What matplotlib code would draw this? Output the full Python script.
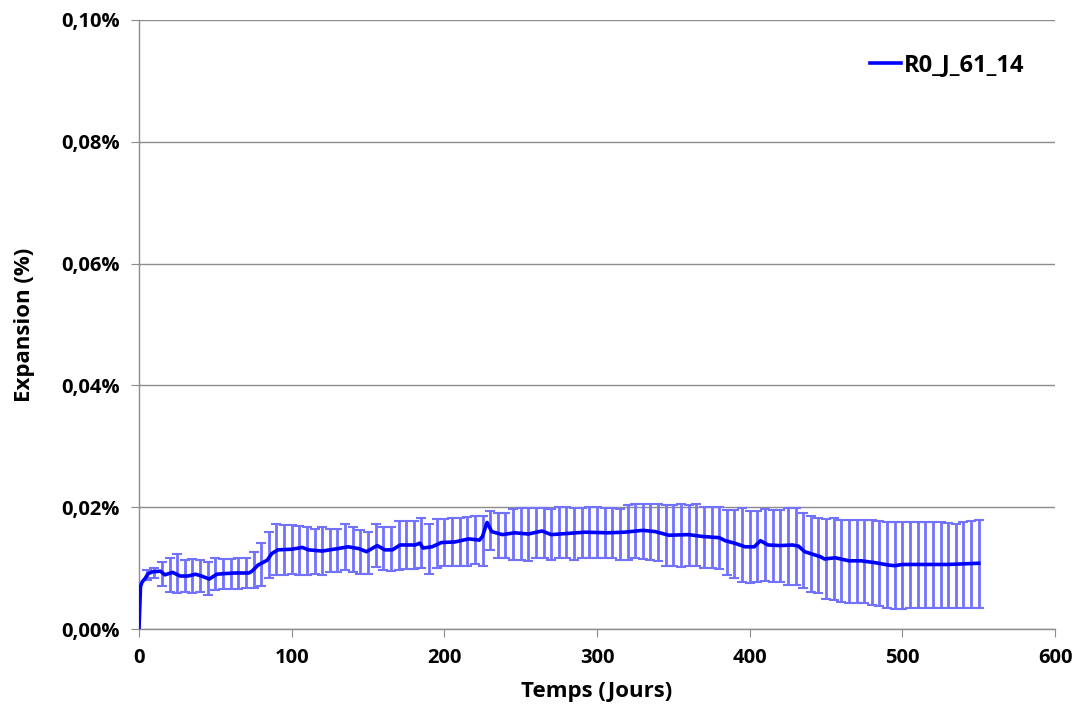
import matplotlib
matplotlib.use("Agg")
import numpy as np
import matplotlib.pyplot as plt
from matplotlib.ticker import FuncFormatter, MultipleLocator

# mean expansion curve (%)
line_days = [0, 1, 2, 4, 6, 9, 14, 17, 22, 27, 32, 37, 41, 46, 51, 56, 63, 72, 74, 78,
             84, 87, 91, 100, 107, 111, 120, 130, 137, 144, 149, 156, 161, 166, 171, 181,
             184, 186, 192, 198, 207, 216, 223, 225, 227, 228, 231, 238, 246, 255, 264,
             270, 281, 292, 307, 318, 330, 338, 347, 360, 369, 380, 384, 390, 397, 403,
             407, 412, 420, 428, 432, 436, 441, 446, 449, 456, 465, 473, 482, 491, 495,
             500, 513, 530, 550]
line_vals = [0.0, 0.0070, 0.0077, 0.0083, 0.0091, 0.0094, 0.0095, 0.0089, 0.0093, 0.0087,
             0.0087, 0.0090, 0.0087, 0.0082, 0.0090, 0.0091, 0.0092, 0.0092, 0.0095, 0.0105,
             0.0113, 0.0124, 0.0130, 0.0131, 0.0134, 0.0130, 0.0128, 0.0132, 0.0135, 0.0132,
             0.0127, 0.0137, 0.0130, 0.0130, 0.0138, 0.0138, 0.0141, 0.0133, 0.0135, 0.0142,
             0.0143, 0.0148, 0.0146, 0.0152, 0.0168, 0.0175, 0.0160, 0.0155, 0.0158, 0.0156,
             0.0161, 0.0155, 0.0157, 0.0159, 0.0158, 0.0159, 0.0162, 0.0160, 0.0154, 0.0155,
             0.0152, 0.0150, 0.0145, 0.0141, 0.0135, 0.0135, 0.0145, 0.0138, 0.0137, 0.0138,
             0.0136, 0.0127, 0.0123, 0.0119, 0.0115, 0.0117, 0.0112, 0.0112, 0.0109, 0.0105,
             0.0104, 0.0106, 0.0106, 0.0106, 0.0108]

# error bar ends (%), one bar every 5 days
bar_days = [5, 10, 15, 20, 25, 30, 35, 40, 45, 50, 55, 60, 65, 70, 75, 80, 85, 90, 95, 100,
            105, 110, 115, 120, 125, 130, 135, 140, 145, 150, 155, 160, 165, 170, 175, 180,
            185, 190, 195, 200, 205, 210, 215, 220, 225, 230, 235, 240, 245, 250, 255, 260,
            265, 270, 275, 280, 285, 290, 295, 300, 305, 310, 315, 320, 325, 330, 335, 340,
            345, 350, 355, 360, 365, 370, 375, 380, 385, 390, 395, 400, 405, 410, 415, 420,
            425, 430, 435, 440, 445, 450, 455, 460, 465, 470, 475, 480, 485, 490, 495, 500,
            505, 510, 515, 520, 525, 530, 535, 540, 545, 550]
bar_high = [0.0097, 0.0100, 0.0110, 0.0117, 0.0124, 0.0113, 0.0115, 0.0113, 0.0110, 0.0117,
            0.0115, 0.0115, 0.0117, 0.0117, 0.0127, 0.0141, 0.0159, 0.0172, 0.0171, 0.0170,
            0.0169, 0.0168, 0.0165, 0.0168, 0.0165, 0.0165, 0.0172, 0.0168, 0.0163, 0.0159,
            0.0172, 0.0167, 0.0168, 0.0177, 0.0177, 0.0177, 0.0183, 0.0172, 0.0181, 0.0181,
            0.0182, 0.0183, 0.0184, 0.0186, 0.0186, 0.0193, 0.0190, 0.0190, 0.0197, 0.0198,
            0.0198, 0.0198, 0.0198, 0.0197, 0.0200, 0.0200, 0.0199, 0.0199, 0.0200, 0.0200,
            0.0199, 0.0199, 0.0197, 0.0203, 0.0205, 0.0205, 0.0206, 0.0205, 0.0203, 0.0203,
            0.0205, 0.0204, 0.0205, 0.0201, 0.0201, 0.0201, 0.0195, 0.0195, 0.0198, 0.0194,
            0.0193, 0.0197, 0.0195, 0.0195, 0.0199, 0.0199, 0.0190, 0.0186, 0.0182, 0.0181,
            0.0182, 0.0179, 0.0179, 0.0179, 0.0179, 0.0179, 0.0177, 0.0176, 0.0175, 0.0175,
            0.0175, 0.0175, 0.0175, 0.0175, 0.0175, 0.0174, 0.0172, 0.0176, 0.0177, 0.0179]
bar_low = [0.0080, 0.0084, 0.0070, 0.0061, 0.0059, 0.0060, 0.0059, 0.0060, 0.0056, 0.0064,
           0.0066, 0.0066, 0.0066, 0.0068, 0.0067, 0.0071, 0.0083, 0.0089, 0.0089, 0.0090,
           0.0089, 0.0089, 0.0090, 0.0089, 0.0094, 0.0094, 0.0097, 0.0094, 0.0091, 0.0090,
           0.0102, 0.0097, 0.0095, 0.0097, 0.0099, 0.0099, 0.0101, 0.0090, 0.0101, 0.0103,
           0.0104, 0.0104, 0.0104, 0.0106, 0.0104, 0.0130, 0.0117, 0.0117, 0.0113, 0.0113,
           0.0111, 0.0116, 0.0116, 0.0113, 0.0117, 0.0116, 0.0113, 0.0116, 0.0116, 0.0117,
           0.0117, 0.0116, 0.0113, 0.0113, 0.0116, 0.0115, 0.0113, 0.0111, 0.0104, 0.0104,
           0.0102, 0.0104, 0.0104, 0.0101, 0.0101, 0.0099, 0.0089, 0.0084, 0.0077, 0.0075,
           0.0077, 0.0079, 0.0078, 0.0077, 0.0073, 0.0072, 0.0067, 0.0060, 0.0059, 0.0050,
           0.0048, 0.0045, 0.0042, 0.0042, 0.0043, 0.0039, 0.0038, 0.0034, 0.0033, 0.0033,
           0.0034, 0.0034, 0.0034, 0.0034, 0.0034, 0.0034, 0.0034, 0.0034, 0.0034, 0.0034]

series_name = "R0_J_61_14"

plt.rcParams["font.family"] = ["Open Sans", "DejaVu Sans"]
plt.rcParams["font.weight"] = "bold"

fig = plt.figure(figsize=(10.8, 7.04), dpi=100)
ax = fig.add_axes([0.1287, 0.1065, 0.8482, 0.8651])

high = np.array(bar_high)
low = np.array(bar_low)
mid = (high + low) / 2
half = (high - low) / 2
_, caps, bars = ax.errorbar(bar_days, mid, yerr=half, fmt="none", ecolor="#7272ff",
                            elinewidth=2, capsize=3.5, capthick=1.5, zorder=2)
for c in caps:
    c.set_color("#2020ff")

ax.plot(line_days, line_vals, color="#0000ff", lw=2.6, label=series_name, zorder=3)

ax.set_xlim(0, 600)
ax.set_ylim(0, 0.1)
ax.xaxis.set_major_locator(MultipleLocator(100))
ax.yaxis.set_major_locator(MultipleLocator(0.02))
ax.yaxis.set_major_formatter(FuncFormatter(lambda v, p: f"{v:.2f}%".replace(".", ",")))
ax.yaxis.grid(True, color="#8c8c8c", lw=1)
ax.set_axisbelow(True)

for s in ["top", "right"]:
    ax.spines[s].set_visible(False)
for s in ["left", "bottom"]:
    ax.spines[s].set_color("#8c8c8c")
    ax.spines[s].set_linewidth(1)
ax.tick_params(axis="both", colors="#8c8c8c", labelcolor="black", labelsize=14.5,
               length=6, direction="out", pad=8)

ax.set_xlabel("Temps (Jours)", fontsize=16, fontweight="bold", labelpad=9)
ax.set_ylabel("Expansion (%)", fontsize=16, fontweight="bold", labelpad=19)

leg = ax.legend(loc="upper right", bbox_to_anchor=(0.99, 0.98), frameon=False,
                fontsize=17, handlelength=1.3, handletextpad=0.15)

fig.savefig("out.png", dpi=100)
